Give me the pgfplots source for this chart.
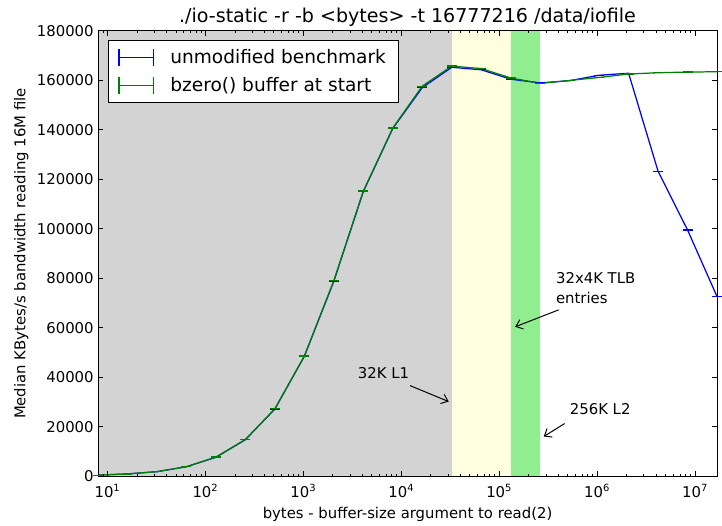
\documentclass[border={8pt 0pt 0pt 3pt}]{standalone}
\usepackage{fontspec}
\setmainfont{DejaVu Sans}
\usepackage{pgfplots}
\pgfplotsset{compat=1.18}
\usetikzlibrary{arrows.meta}
\definecolor{bandgray}{HTML}{D3D3D3}
\definecolor{bandyellow}{HTML}{FFFFE0}
\definecolor{bandgreen}{HTML}{90EE90}
\definecolor{mplblue}{HTML}{0000FF}
\definecolor{mplgreen}{HTML}{008000}

\begin{document}
\begin{tikzpicture}[font=\fontsize{12}{14.4}\selectfont]
\begin{axis}[
  scale only axis, width=500pt, height=360pt,
  xmode=log, log basis x=10,
  xmin=8, xmax=16777216, ymin=0, ymax=180000,
  ytick={0,20000,40000,60000,80000,100000,120000,140000,160000,180000},
  scaled y ticks=false,
  yticklabel style={/pgf/number format/fixed, /pgf/number format/precision=0,
    /pgf/number format/1000 sep={}, /pgf/number format/assume math mode=true},
  xticklabel={10\textsuperscript{\pgfmathprintnumber[fixed,precision=0,assume math mode=true]{\tick}}},
  tick label style={font=\fontsize{12}{14.4}\selectfont},
  xticklabel style={yshift=-3pt},
  label style={font=\fontsize{12}{14.4}\selectfont},
  xlabel style={yshift=-1pt},
  axis on top,
  major tick length=4pt, minor tick length=2pt,
  tick style={black, line width=0.6pt},
  axis line style={line width=0.8pt},
  title={\fontsize{15.4}{18}\selectfont ./io-static -r -b <bytes> -t 16777216 /data/iofile},
  title style={yshift=-6pt},
  xlabel={bytes - buffer-size argument to read(2)},
  ylabel={Median KBytes/s bandwidth reading 16M file},
  legend style={at={(0.016,0.98)}, anchor=north west, draw=black, line width=0.8pt,
    fill=white, inner xsep=8pt, inner ysep=5.5pt, row sep=6pt,
    font=\fontsize{15}{18}\selectfont, cells={anchor=west}},
  legend image code/.code={
    \draw[#1, mark=none, line width=1pt] (0pt,0pt) -- (28pt,0pt);
    \draw[#1, mark=none, line width=1pt] (0pt,-7pt) -- (0pt,7pt);
    \draw[#1, mark=none, line width=1pt] (28pt,-7pt) -- (28pt,7pt);
    \path (39pt,0pt);
  },
]
% cache bands
\addplot[fill=bandgray, draw=none, forget plot]
  coordinates {(8,0) (32768,0) (32768,180000) (8,180000)} -- cycle;
\addplot[fill=bandyellow, draw=none, forget plot]
  coordinates {(32768,0) (131072,0) (131072,180000) (32768,180000)} -- cycle;
\addplot[fill=bandgreen, draw=none, forget plot]
  coordinates {(131072,0) (262144,0) (262144,180000) (131072,180000)} -- cycle;

\addplot[color=mplblue, line width=1pt, mark=-, mark size=4pt] coordinates {
  (8,500) (16,1000) (32,1900) (64,3900) (128,7700) (256,14800) (512,27200)
  (1024,48500) (2048,78800) (4096,115000) (8192,140500) (16384,157000)
  (32768,165200) (65536,164200) (131072,160400) (262144,158900) (524288,159800)
  (1048576,162000) (2097152,162800) (4194304,123200) (8388608,99500) (16777216,72600)
};
\addlegendentry{unmodified benchmark\hspace{4pt}}
\addplot[color=mplgreen, line width=1pt, mark=-, mark size=4pt] coordinates {
  (8,500) (16,1000) (32,1900) (64,3900) (128,7800) (256,14900) (512,27300)
  (1024,48600) (2048,79000) (4096,115200) (8192,140700) (16384,157600)
  (32768,165700) (65536,164700) (131072,160900) (262144,158700) (524288,159900)
  (1048576,161100) (2097152,162500) (4194304,163000) (8388608,163300) (16777216,163400)
};
\addlegendentry{bzero() buffer at start}

\node[anchor=west] at (axis cs:3260,41900) {32K L1};
\draw[-{Straight Barb[length=5pt,width=8pt]}, line width=0.8pt]
  (axis cs:12300,36640) -- (axis cs:30550,30200);
\node[anchor=west, align=left, font=\fontsize{12}{16}\selectfont] at (axis cs:344000,76100) {32x4K TLB\\entries};
\draw[-{Straight Barb[length=5pt,width=8pt]}, line width=0.8pt]
  (axis cs:405000,67250) -- (axis cs:145500,60400);
\node[anchor=west] at (axis cs:476000,27000) {256K L2};
\draw[-{Straight Barb[length=5pt,width=8pt]}, line width=0.8pt]
  (axis cs:466000,21340) -- (axis cs:285000,16100);
\end{axis}
\end{tikzpicture}
\end{document}
